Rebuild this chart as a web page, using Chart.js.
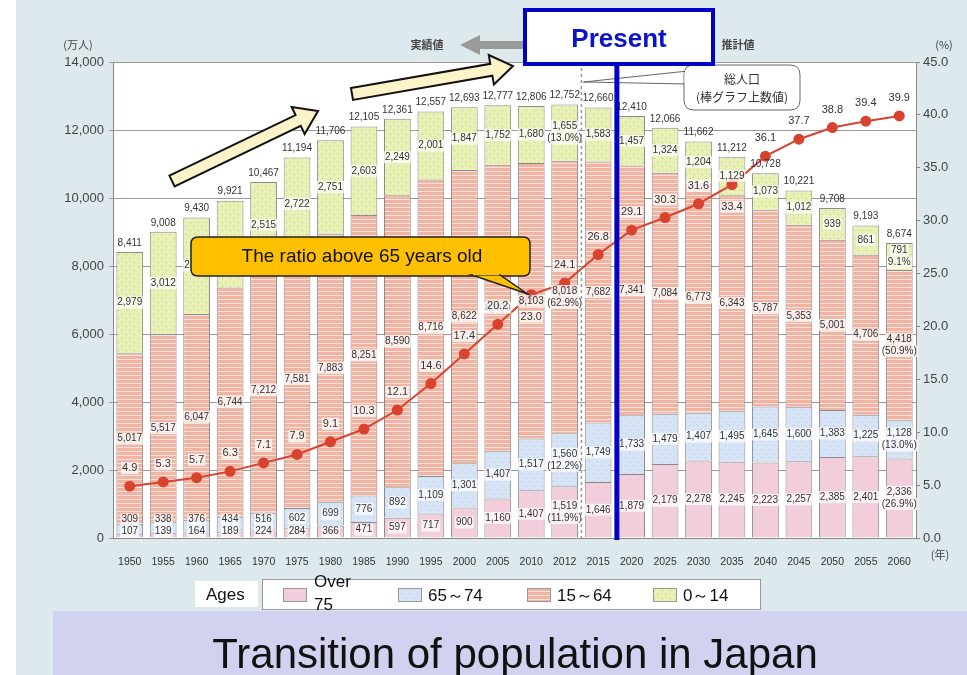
<!DOCTYPE html>
<html>
<head>
<meta charset="utf-8">
<script src="https://cdn.jsdelivr.net/npm/chart.js"></script>
<style>
  html, body { margin: 0; padding: 0; background: #fff; }
  #wrap { width: 967px; height: 675px; position: relative; }
</style>
</head>
<body>
<div id="wrap"><canvas id="popChart" width="967" height="675"></canvas></div>
<script>
// population by age group (unit: 10,000 people), ratio of 65+ in %
const years = ['1950','1955','1960','1965','1970','1975','1980','1985','1990','1995','2000','2005',
               '2010','2012','2015','2020','2025','2030','2035','2040','2045','2050','2055','2060'];
const over75    = [107, 139, 164, 189, 224, 284, 366, 471, 597, 717, 900, 1160,
                   1407, 1519, 1646, 1879, 2179, 2278, 2245, 2223, 2257, 2385, 2401, 2336];
const age65to74 = [309, 338, 376, 434, 516, 602, 699, 776, 892, 1109, 1301, 1407,
                   1517, 1560, 1749, 1733, 1479, 1407, 1495, 1645, 1600, 1383, 1225, 1128];
const age15to64 = [5017, 5517, 6047, 6744, 7212, 7581, 7883, 8251, 8590, 8716, 8622, 8409,
                   8103, 8018, 7682, 7341, 7084, 6773, 6343, 5787, 5353, 5001, 4706, 4418];
const age0to14  = [2979, 3012, 2843, 2553, 2515, 2722, 2751, 2603, 2249, 2001, 1847, 1752,
                   1680, 1655, 1583, 1457, 1324, 1204, 1129, 1073, 1012, 939, 861, 791];
const totals    = [8411, 9008, 9430, 9921, 10467, 11194, 11706, 12105, 12361, 12557, 12693, 12777,
                   12806, 12752, 12660, 12410, 12066, 11662, 11212, 10728, 10221, 9708, 9193, 8674];
const ratio65   = [4.9, 5.3, 5.7, 6.3, 7.1, 7.9, 9.1, 10.3, 12.1, 14.6, 17.4, 20.2,
                   23.0, 24.1, 26.8, 29.1, 30.3, 31.6, 33.4, 36.1, 37.7, 38.8, 39.4, 39.9];
// shares shown under the figures for 2012 and 2060 (bottom group first)
const share2012 = ['(11.9%)', '(12.2%)', '(62.9%)', '(13.0%)'];
const share2060 = ['(26.9%)', '(13.0%)', '(50.9%)', '9.1%'];
const groupNames = ['Over 75', '65～74', '15～64', '0～14'];

const FONT = 'Arial, "Liberation Sans", sans-serif';
const JP = '"Noto Sans CJK JP", sans-serif';

function makePattern(w, h, base, paint) {
  const c = document.createElement('canvas');
  c.width = w; c.height = h;
  const g = c.getContext('2d');
  g.fillStyle = base;
  g.fillRect(0, 0, w, h);
  paint(g);
  return g.createPattern(c, 'repeat');
}

const fillOver75 = '#f2cddb';
const fill65 = makePattern(8, 8, '#d6e4f5', g => {
  g.fillStyle = '#a8bfdc';
  g.fillRect(1, 1, 1, 1);
  g.fillRect(5, 5, 1, 1);
});
const fill15 = makePattern(4, 4, '#f1b3a2', g => {
  g.fillStyle = '#fbe2da';
  g.fillRect(0, 3, 4, 1);
});
const fill0 = makePattern(8, 8, '#e8f0b6', g => {
  g.fillStyle = '#b5c577';
  g.fillRect(2, 2, 1, 1);
  g.fillRect(6, 6, 1, 1);
});
const groupFills = [fillOver75, fill65, fill15, fill0];

function fmt(v) { return v.toLocaleString('en-US'); }

function labelBox(ctx, text, x, y, font, color) {
  ctx.font = font;
  const w = ctx.measureText(text).width;
  ctx.fillStyle = 'rgba(255,255,255,0.75)';
  ctx.fillRect(x - w / 2 - 1, y - 6, w + 2, 12);
  ctx.fillStyle = color;
  ctx.fillText(text, x, y);
}

// page backdrop and white plot area
const backdrop = {
  id: 'backdrop',
  beforeDraw(chart) {
    const { ctx, chartArea: a } = chart;
    ctx.save();
    ctx.fillStyle = '#fff';
    ctx.fillRect(0, 0, 967, 675);
    ctx.fillStyle = '#dde9ec';
    ctx.fillRect(16, 0, 951, 675);
    ctx.fillStyle = '#d1d2ef';
    ctx.fillRect(53, 611, 914, 64);
    ctx.fillStyle = '#fff';
    ctx.fillRect(a.left, a.top, a.right - a.left, a.bottom - a.top);
    ctx.restore();
  }
};

// figures on the bars and on the ratio line
const figureLabels = {
  id: 'figureLabels',
  afterDatasetsDraw(chart) {
    const ctx = chart.ctx;
    ctx.save();
    ctx.textAlign = 'center';
    ctx.textBaseline = 'middle';
    const small = '10px ' + FONT;
    const groups = [over75, age65to74, age15to64, age0to14];
    for (let j = 0; j < years.length; j++) {
      let prevY = null;
      for (let d = 0; d < 4; d++) {
        const el = chart.getDatasetMeta(d + 1).data[j];
        let y = (el.y + el.base) / 2;
        if (d === 0) y = Math.min(y, el.base - 6);
        if (d === 1 && prevY !== null) y = Math.min(y, prevY - 12);
        const extra = j === 13 ? share2012[d] : (j === 23 ? share2060[d] : null);
        if (extra) {
          labelBox(ctx, fmt(groups[d][j]), el.x, y - 6, small, '#333');
          labelBox(ctx, extra, el.x, y + 6, small, '#333');
        } else {
          labelBox(ctx, fmt(groups[d][j]), el.x, y, small, '#333');
        }
        prevY = y;
      }
      const top = chart.getDatasetMeta(4).data[j];
      ctx.font = small;
      ctx.fillStyle = '#333';
      ctx.fillText(fmt(totals[j]), top.x, top.y - 9);
    }
    // ratio figures, two of them sit under the point
    const below = [12, 18];
    const pts = chart.getDatasetMeta(0).data;
    pts.forEach((p, j) => {
      const y = below.includes(j) ? p.y + 22 : p.y - 18;
      labelBox(ctx, ratio65[j].toFixed(1), p.x, y, '11px ' + FONT, '#333');
    });
    ctx.restore();
  }
};

function roundRect(ctx, x, y, w, h, r) {
  ctx.beginPath();
  ctx.moveTo(x + r, y);
  ctx.lineTo(x + w - r, y);
  ctx.quadraticCurveTo(x + w, y, x + w, y + r);
  ctx.lineTo(x + w, y + h - r);
  ctx.quadraticCurveTo(x + w, y + h, x + w - r, y + h);
  ctx.lineTo(x + r, y + h);
  ctx.quadraticCurveTo(x, y + h, x, y + h - r);
  ctx.lineTo(x, y + r);
  ctx.quadraticCurveTo(x, y, x + r, y);
  ctx.closePath();
}

function fatArrow(ctx, x1, y1, x2, y2) {
  const ang = Math.atan2(y2 - y1, x2 - x1);
  const len = Math.hypot(x2 - x1, y2 - y1);
  const sw = 6, hw = 15, hl = 22;
  ctx.save();
  ctx.translate(x1, y1);
  ctx.rotate(ang);
  ctx.beginPath();
  ctx.moveTo(0, -sw);
  ctx.lineTo(len - hl, -sw);
  ctx.lineTo(len - hl, -hw);
  ctx.lineTo(len, 0);
  ctx.lineTo(len - hl, hw);
  ctx.lineTo(len - hl, sw);
  ctx.lineTo(0, sw);
  ctx.closePath();
  ctx.fillStyle = '#fdf3c8';
  ctx.fill();
  ctx.lineWidth = 2;
  ctx.strokeStyle = '#111';
  ctx.stroke();
  ctx.restore();
}

// axis captions, notes, "Present" marker, legend and title
const notes = {
  id: 'notes',
  afterDraw(chart) {
    const { ctx, chartArea: a } = chart;
    const xs = chart.scales.x;
    ctx.save();

    // units
    ctx.fillStyle = '#444';
    ctx.textBaseline = 'middle';
    ctx.textAlign = 'center';
    ctx.font = '11px ' + JP;
    ctx.fillText('(万人)', 78, 45);
    ctx.fillText('(%)', 944, 45);
    ctx.fillText('(年)', 940, 555);

    // boundary between census and projection
    const xSplit = (xs.getPixelForValue(13) + xs.getPixelForValue(14)) / 2;
    ctx.strokeStyle = '#999';
    ctx.lineWidth = 1.5;
    ctx.setLineDash([3, 3]);
    ctx.beginPath();
    ctx.moveTo(xSplit, a.top);
    ctx.lineTo(xSplit, a.bottom);
    ctx.stroke();
    ctx.setLineDash([]);

    // 実績値 <- arrow
    ctx.fillStyle = '#9a9a9a';
    ctx.fillRect(478, 41, 50, 8);
    ctx.beginPath();
    ctx.moveTo(460, 45);
    ctx.lineTo(480, 35);
    ctx.lineTo(480, 55);
    ctx.closePath();
    ctx.fill();
    ctx.fillStyle = '#444';
    ctx.font = 'bold 11px ' + JP;
    ctx.fillText('実績値', 427, 45);
    ctx.fillText('推計値', 738, 45);

    // 総人口 callout
    ctx.beginPath();
    ctx.moveTo(688, 71);
    ctx.lineTo(xSplit + 2, 82);
    ctx.lineTo(688, 84);
    ctx.closePath();
    ctx.fillStyle = '#fff';
    ctx.fill();
    ctx.strokeStyle = '#666';
    ctx.lineWidth = 1;
    ctx.stroke();
    roundRect(ctx, 684, 65, 116, 45, 10);
    ctx.fill();
    ctx.stroke();
    ctx.fillStyle = '#fff';
    ctx.fillRect(684.5, 72, 4, 11);
    ctx.fillStyle = '#333';
    ctx.font = '12px ' + JP;
    ctx.fillText('総人口', 742, 79);
    ctx.fillText('(棒グラフ上数値)', 742, 97);

    // rising arrows
    fatArrow(ctx, 172, 181, 318, 111);
    fatArrow(ctx, 352, 94, 513, 66);

    // ratio callout pointing at the 2010 point
    const p = chart.getDatasetMeta(0).data[12];
    ctx.beginPath();
    roundRect(ctx, 191, 237, 339, 39, 7);
    ctx.fillStyle = '#ffc000';
    ctx.fill();
    ctx.strokeStyle = '#222';
    ctx.lineWidth = 1.5;
    ctx.stroke();
    ctx.beginPath();
    ctx.moveTo(472, 275);
    ctx.lineTo(p.x - 4, p.y - 1);
    ctx.lineTo(500, 275);
    ctx.closePath();
    ctx.fill();
    ctx.stroke();
    ctx.fillRect(473, 272, 26, 3.2);
    ctx.fillStyle = '#111';
    ctx.font = '19px ' + FONT;
    ctx.fillText('The ratio above 65 years old', 362, 257);

    // Present marker
    const xNow = (xs.getPixelForValue(14) + xs.getPixelForValue(15)) / 2 + 2;
    ctx.fillStyle = '#0000c8';
    ctx.fillRect(xNow - 2.5, 60, 5, a.bottom + 2 - 60);
    ctx.fillStyle = '#fff';
    ctx.fillRect(525, 10, 188, 54);
    ctx.strokeStyle = '#0000c8';
    ctx.lineWidth = 4;
    ctx.strokeRect(525, 10, 188, 54);
    ctx.fillStyle = '#0a14c8';
    ctx.font = 'bold 26px ' + FONT;
    ctx.fillText('Present', 619, 40);

    // legend
    ctx.fillStyle = '#fff';
    ctx.fillRect(195, 581, 63, 26);
    ctx.fillRect(262, 579, 498, 30);
    ctx.strokeStyle = '#999';
    ctx.lineWidth = 1;
    ctx.strokeRect(262.5, 579.5, 498, 30);
    ctx.fillStyle = '#111';
    ctx.textAlign = 'left';
    ctx.font = '17px ' + FONT;
    ctx.fillText('Ages', 206, 595);
    const sw = [283, 398, 527, 653];
    groupNames.forEach((name, i) => {
      ctx.fillStyle = groupFills[i];
      ctx.fillRect(sw[i], 588, 23, 13);
      ctx.strokeStyle = '#999';
      ctx.strokeRect(sw[i] + 0.5, 588.5, 23, 13);
      ctx.fillStyle = '#111';
      if (i === 0) {
        ctx.fillText('Over', 314, 582);
        ctx.fillText('75', 314, 605);
      } else {
        ctx.fillText(name, sw[i] + 30, 596);
      }
    });

    // title
    ctx.textAlign = 'center';
    ctx.textBaseline = 'alphabetic';
    ctx.font = '42px ' + FONT;
    ctx.fillStyle = '#111';
    ctx.fillText('Transition of population in Japan', 515, 668);
    ctx.restore();
  }
};

const barBase = { type: 'bar', yAxisID: 'y', borderColor: '#8a8a8a', borderWidth: 1,
                  barPercentage: 0.8, categoryPercentage: 1, order: 1, stack: 'pop' };

new Chart(document.getElementById('popChart').getContext('2d'), {
  type: 'bar',
  data: {
    labels: years,
    datasets: [
      { type: 'line', label: 'ratio', data: ratio65, yAxisID: 'y2', order: 0,
        borderColor: '#d8432f', borderWidth: 2, backgroundColor: '#d8432f',
        pointRadius: 4.5, pointBackgroundColor: '#d8432f', pointBorderColor: '#d8432f' },
      Object.assign({ label: groupNames[0], data: over75, backgroundColor: fillOver75 }, barBase),
      Object.assign({ label: groupNames[1], data: age65to74, backgroundColor: fill65 }, barBase),
      Object.assign({ label: groupNames[2], data: age15to64, backgroundColor: fill15 }, barBase),
      Object.assign({ label: groupNames[3], data: age0to14, backgroundColor: fill0 }, barBase)
    ]
  },
  options: {
    responsive: false,
    animation: false,
    layout: { padding: { top: 62, left: 0, right: 0, bottom: 0 } },
    plugins: { legend: { display: false }, tooltip: { enabled: false } },
    scales: {
      x: {
        stacked: true,
        grid: { display: false },
        border: { color: '#888' },
        ticks: { color: '#333', font: { size: 10.5, family: FONT }, maxRotation: 0,
                 autoSkip: false, padding: 10 },
        afterFit: s => { s.height = 137; }
      },
      y: {
        stacked: true,
        min: 0, max: 14000,
        ticks: { stepSize: 2000, color: '#444', font: { size: 13, family: FONT }, padding: 5,
                 callback: v => fmt(v) },
        grid: { color: '#9a9a9a', tickLength: 4 },
        border: { color: '#888' },
        afterFit: s => { s.width = 113; }
      },
      y2: {
        position: 'right',
        min: 0, max: 45,
        ticks: { stepSize: 5, color: '#444', font: { size: 13, family: FONT }, padding: 3,
                 callback: v => v.toFixed(1) },
        grid: { drawOnChartArea: false, tickLength: 4, color: '#888' },
        border: { color: '#888' },
        afterFit: s => { s.width = 51; }
      }
    }
  },
  plugins: [backdrop, figureLabels, notes]
});
</script>
</body>
</html>
